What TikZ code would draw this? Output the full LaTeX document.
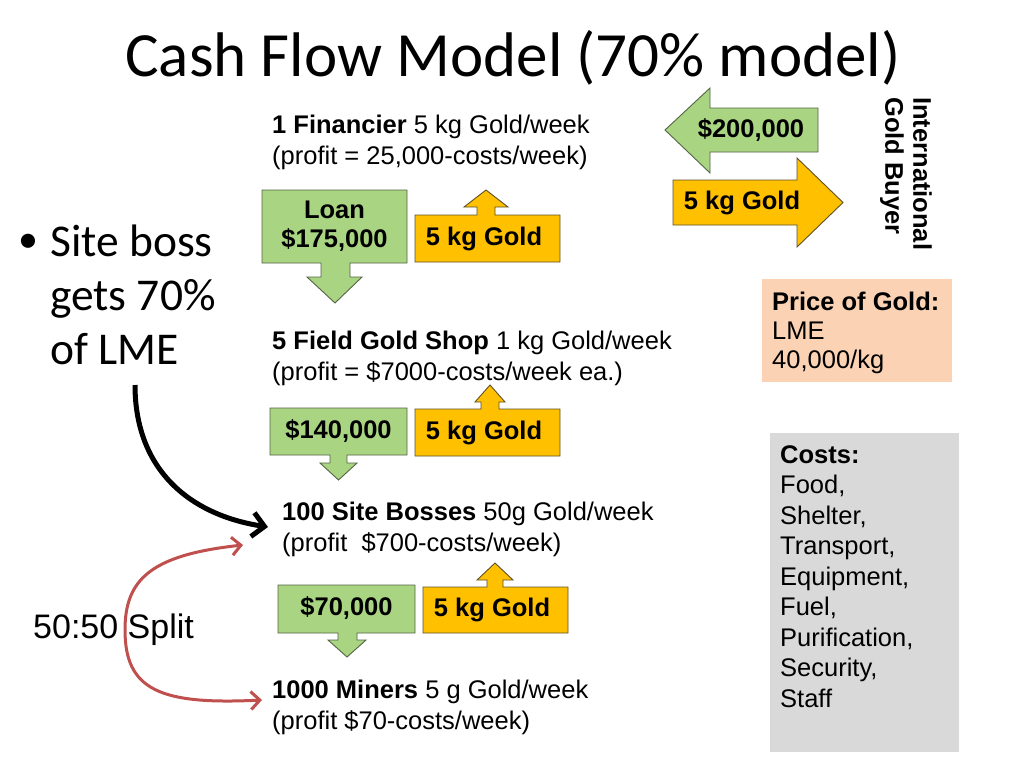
\documentclass[tikz,border=0pt]{standalone}
\usepackage{fontspec}
\setmainfont{Liberation Sans}
\newfontfamily\calibri{Carlito}
\usetikzlibrary{arrows.meta}
\definecolor{gfill}{RGB}{169,212,130}
\definecolor{gline}{RGB}{85,100,70}
\definecolor{ofill}{RGB}{255,192,0}
\definecolor{oline}{RGB}{95,80,40}
\definecolor{peach}{RGB}{251,210,180}
\definecolor{greyb}{RGB}{217,217,217}
\definecolor{redarr}{RGB}{192,80,77}
\tikzset{
  gshape/.style={fill=gfill, draw=gline, line width=0.9pt, line join=miter},
  oshape/.style={fill=ofill, draw=oline, line width=0.9pt, line join=miter},
  body/.style={font=\fontsize{25.5}{30.5}\selectfont, align=left, inner sep=0pt, anchor=north west},
  boxtxt/.style={font=\fontsize{25.5}{29}\selectfont\bfseries, align=center, inner sep=0pt},
  bullettxt/.style={font=\calibri\fontsize{45.5}{54}\selectfont, align=left, inner sep=0pt, anchor=north west},
}
\begin{document}
\begin{tikzpicture}[x=1pt,y=-1pt]
\useasboundingbox[fill=white] (0,0) rectangle (1024,768);

% title
\node[font=\calibri\fontsize{63}{72}\selectfont, inner sep=0pt] (title) at (513,58) {Cash Flow Model (70\% model)};

% bullet
\node[font=\calibri\fontsize{40}{54}\selectfont, inner sep=0pt] (dot) at (28,243) {•};
\node[bullettxt] (bullet) at (50,225) {Site boss\\gets 70\%\\of LME};

% level texts
\node[body] (fin) at (272,115) {\textbf{1 Financier} 5 kg Gold/week\\(profit = 25,000-costs/week)};
\node[body] (shop) at (272,331) {\textbf{5 Field Gold Shop} 1 kg Gold/week\\(profit = \$7000-costs/week ea.)};
\node[body] (boss) at (282,502) {\textbf{100 Site Bosses} 50g Gold/week\\(profit\ \ \$700-costs/week)};
\node[body] (miner) at (272,680) {\textbf{1000 Miners} 5 g Gold/week\\(profit \$70-costs/week)};

% row 1
\draw[gshape] (262,190) -- (407,190) -- (407,263) -- (350,263) -- (350,277) -- (362,277) -- (335,303) -- (307,277) -- (321,277) -- (321,263) -- (262,263) -- cycle;
\node[boxtxt] (loan) at (334.5,226.5) {Loan\\\$175,000};
\draw[oshape] (415,215) -- (477,215) -- (477,207) -- (464,207) -- (486,190) -- (508,207) -- (495,207) -- (495,215) -- (560,215) -- (560,262) -- (415,262) -- cycle;
\node[boxtxt] (gold1) at (484,238.5) {5 kg Gold};

% row 2
\draw[gshape] (270,408) -- (407,408) -- (407,455) -- (347,455) -- (347,463) -- (357,463) -- (338.5,480) -- (320,463) -- (330,463) -- (330,455) -- (270,455) -- cycle;
\node[boxtxt] (m140) at (338.5,431.5) {\$140,000};
\draw[oshape] (415,409) -- (481,409) -- (481,402) -- (475,402) -- (490,385) -- (505,402) -- (499,402) -- (499,409) -- (560,409) -- (560,456) -- (415,456) -- cycle;
\node[boxtxt] (gold2) at (484,432.5) {5 kg Gold};

% row 3
\draw[gshape] (278,585) -- (415,585) -- (415,633) -- (357,633) -- (357,640) -- (366,640) -- (347,657) -- (328,640) -- (338,640) -- (338,633) -- (278,633) -- cycle;
\node[boxtxt] (m70) at (346.5,608) {\$70,000};
\draw[oshape] (423,587) -- (487,587) -- (487,580) -- (477,580) -- (495,563) -- (513,580) -- (503,580) -- (503,587) -- (568,587) -- (568,633) -- (423,633) -- cycle;
\node[boxtxt] (gold3) at (492,610) {5 kg Gold};

% top right arrows
\draw[gshape] (665,130) -- (710,88) -- (710,108) -- (818,108) -- (818,152) -- (710,152) -- (710,173) -- cycle;
\node[boxtxt] (m200) at (751,130) {\$200,000};
\draw[oshape] (673,180) -- (797,180) -- (797,158) -- (843,202.5) -- (797,247) -- (797,225) -- (673,225) -- cycle;
\node[boxtxt] (gold4) at (742,202.5) {5 kg Gold};

% buyer
\node[font=\fontsize{25.5}{28}\selectfont\bfseries, align=left, inner sep=0pt, rotate=-90, anchor=north west] (buyer) at (932,97) {International\\Gold Buyer};

% price box
\fill[peach] (762,279) rectangle (952,382);
\node[body, font=\fontsize{25.5}{29}\selectfont] (price) at (772,292) {\textbf{Price of Gold:}\\LME\\40,000/kg};

% costs box
\fill[greyb] (770,433) rectangle (959,752);
\node[body] (costs) at (780,445) {\textbf{Costs:}\\Food,\\Shelter,\\Transport,\\Equipment,\\Fuel,\\Purification,\\Security,\\Staff};

% split label
\node[font=\fontsize{34}{38}\selectfont, inner sep=0pt, anchor=west] (split) at (33,630) {50:50 Split};

% connectors
\coordinate (bs) at (135,385);
\coordinate (be) at (268,527);
\draw[line width=5pt, -{Straight Barb[length=12pt,width=24pt]}] (bs) .. controls (135,470) and (190,515) .. (be);

\coordinate (rs) at (243,545);
\coordinate (re) at (262,700);
\draw[redarr, line width=3pt, {Straight Barb[length=9pt,width=18pt]}-{Straight Barb[length=9pt,width=18pt]}] (rs) .. controls (150,555) and (125,580) .. (125,630) .. controls (125,690) and (160,705) .. (re);
\end{tikzpicture}
\end{document}
